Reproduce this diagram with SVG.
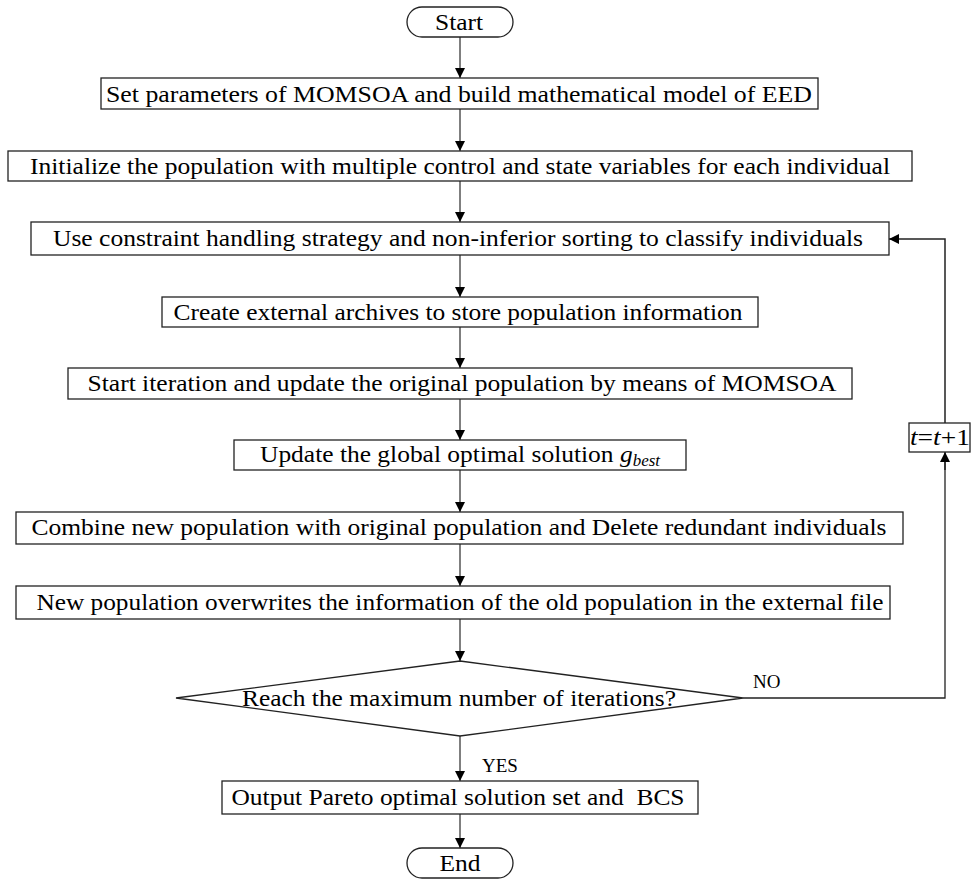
<svg xmlns="http://www.w3.org/2000/svg" width="973" height="879" viewBox="0 0 973 879">
<defs>
<marker id="ah" markerWidth="10" markerHeight="10" refX="10" refY="5" orient="auto" markerUnits="userSpaceOnUse">
<path d="M0,0 L10,5 L0,10 Z" fill="#000"/>
</marker>
<style>
.b{fill:#fff;stroke:#222;stroke-width:1.3}
.t{font-family:"Liberation Serif","Times New Roman",serif;font-size:24px;fill:#000;text-anchor:middle;white-space:pre}
.s{font-family:"Liberation Serif","Times New Roman",serif;font-size:19px;fill:#000}
.c{fill:none;stroke:#555;stroke-width:1.5;marker-end:url(#ah)}
.k{fill:none;stroke:#222;stroke-width:1.3}
</style>
</defs>
<rect width="973" height="879" fill="#fff"/>
<g id="connectors">
<line class="c" x1="460" y1="37" x2="460" y2="78"/>
<line class="c" x1="460" y1="109" x2="460" y2="151"/>
<line class="c" x1="460" y1="181" x2="460" y2="222"/>
<line class="c" x1="460" y1="255" x2="460" y2="297"/>
<line class="c" x1="460" y1="327" x2="460" y2="368"/>
<line class="c" x1="460" y1="399" x2="460" y2="440"/>
<line class="c" x1="460" y1="470" x2="460" y2="512"/>
<line class="c" x1="460" y1="544" x2="460" y2="586"/>
<line class="c" x1="460" y1="619" x2="460" y2="661"/>
<line class="c" x1="460" y1="736" x2="460" y2="781"/>
<line class="c" x1="460" y1="814" x2="460" y2="848"/>
<polyline class="k" points="743,698 945,698 945,462"/>
<line class="c" x1="945" y1="470" x2="945" y2="452" style="stroke:#222"/>
<polyline class="c" points="945,423 945,239 889,239" style="stroke:#222"/>
<text class="s" x="753" y="688">NO</text>
<text class="s" x="482" y="772">YES</text>
</g>
<g id="start">
<rect class="b" x="407" y="7" width="106" height="30" rx="15"/>
<text class="t" x="459" y="30" textLength="48" lengthAdjust="spacingAndGlyphs">Start</text>
</g>
<g id="n1">
<rect class="b" x="101" y="78" width="717" height="31"/>
<text class="t" x="459" y="102" textLength="706" lengthAdjust="spacingAndGlyphs">Set parameters of MOMSOA and build mathematical model of EED</text>
</g>
<g id="n2">
<rect class="b" x="8" y="151" width="904" height="30"/>
<text class="t" x="460" y="174" textLength="860" lengthAdjust="spacingAndGlyphs">Initialize the population with multiple control and state variables for each individual</text>
</g>
<g id="n3">
<rect class="b" x="31" y="222" width="858" height="33"/>
<text class="t" x="458" y="246" textLength="810" lengthAdjust="spacingAndGlyphs">Use constraint handling strategy and non-inferior sorting to classify individuals</text>
</g>
<g id="n4">
<rect class="b" x="162" y="297" width="596" height="30"/>
<text class="t" x="458" y="320" textLength="569" lengthAdjust="spacingAndGlyphs">Create external archives to store population information</text>
</g>
<g id="n5">
<rect class="b" x="68" y="368" width="784" height="31"/>
<text class="t" x="462" y="391" textLength="749" lengthAdjust="spacingAndGlyphs">Start iteration and update the original population by means of MOMSOA</text>
</g>
<g id="n6">
<rect class="b" x="234" y="440" width="452" height="30"/>
<text class="t" x="460" y="462" textLength="400" lengthAdjust="spacingAndGlyphs">Update the global optimal solution <tspan font-style="italic">g</tspan><tspan font-style="italic" font-size="16" dy="4">best</tspan></text>
</g>
<g id="n7">
<rect class="b" x="16" y="512" width="887" height="32"/>
<text class="t" x="459" y="535" textLength="855" lengthAdjust="spacingAndGlyphs">Combine new population with original population and Delete redundant individuals</text>
</g>
<g id="n8">
<rect class="b" x="16" y="586" width="874" height="33"/>
<text class="t" x="460" y="610" textLength="847" lengthAdjust="spacingAndGlyphs">New population overwrites the information of the old population in the external file</text>
</g>
<g id="decision">
<polygon class="b" points="460,661 743,698 460,736 176,698"/>
<text class="t" x="459" y="706" textLength="434" lengthAdjust="spacingAndGlyphs">Reach the maximum number of iterations?</text>
</g>
<g id="tbox">
<rect class="b" x="909" y="423" width="61" height="29"/>
<text class="t" x="940" y="445" textLength="60" lengthAdjust="spacingAndGlyphs"><tspan font-style="italic">t</tspan>=<tspan font-style="italic">t</tspan>+1</text>
</g>
<g id="n9">
<rect class="b" x="222" y="781" width="476" height="33"/>
<text class="t" x="458" y="805" textLength="453" lengthAdjust="spacingAndGlyphs" xml:space="preserve">Output Pareto optimal solution set and  BCS</text>
</g>
<g id="end">
<rect class="b" x="407" y="848" width="106" height="30" rx="15"/>
<text class="t" x="460" y="871" textLength="41" lengthAdjust="spacingAndGlyphs">End</text>
</g>
</svg>
